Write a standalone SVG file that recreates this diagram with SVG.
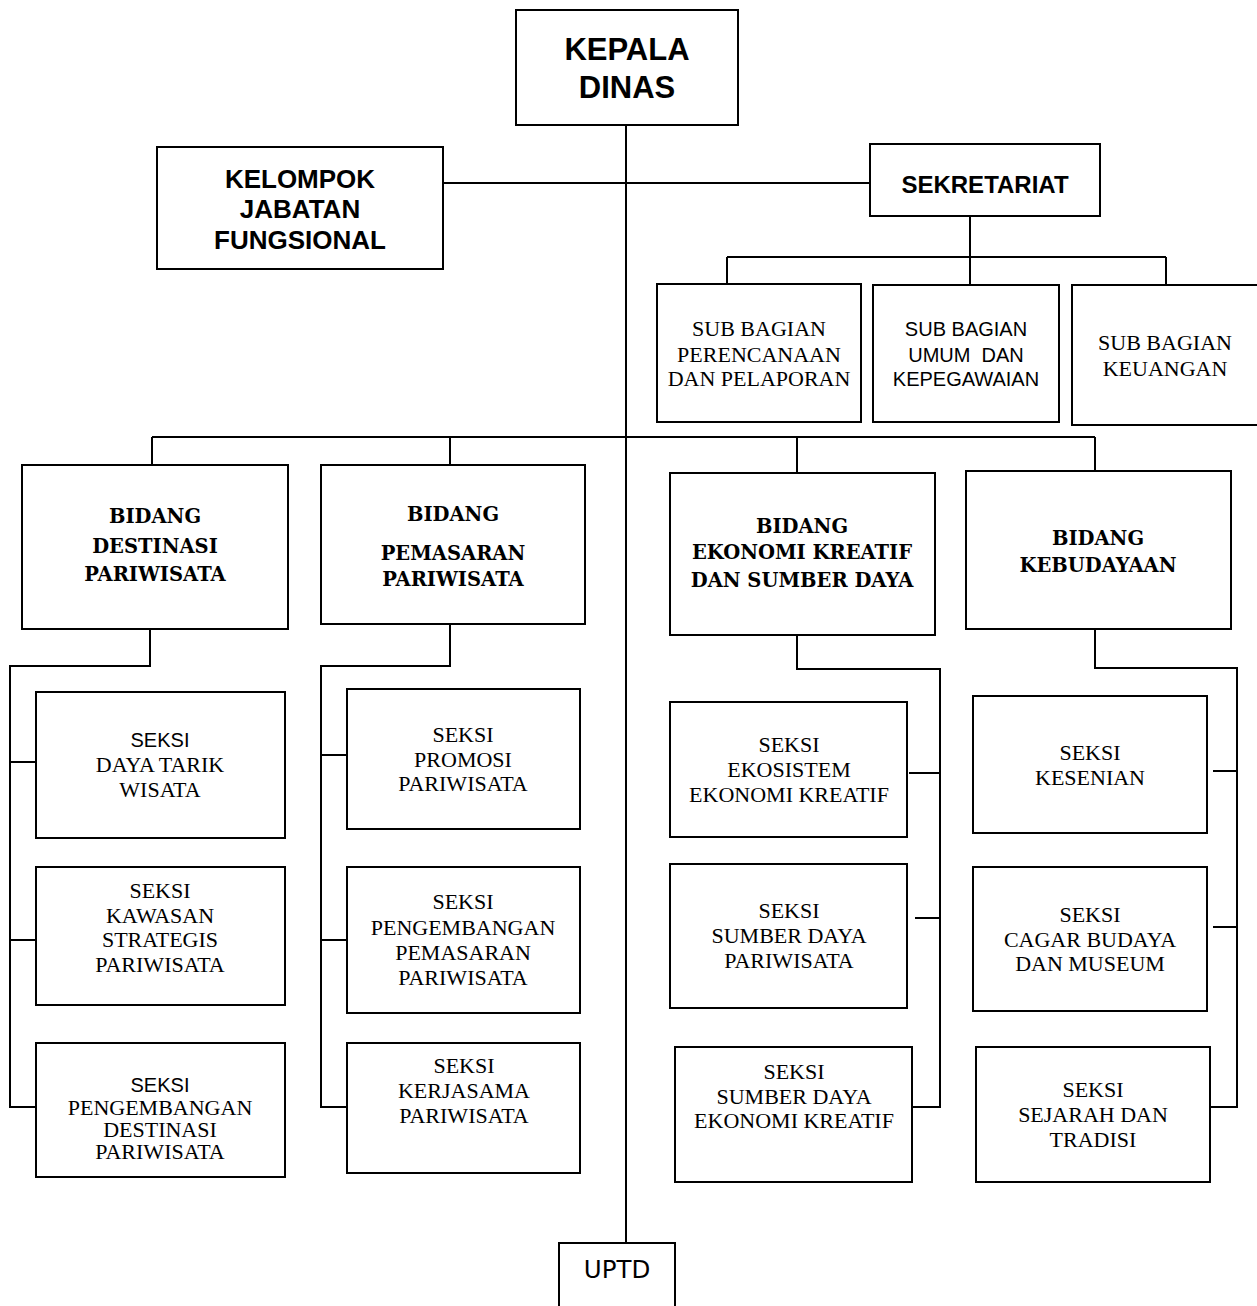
<svg xmlns="http://www.w3.org/2000/svg" width="1257" height="1306" viewBox="0 0 1257 1306">
<style>
.box{fill:#fff;stroke:#000;stroke-width:2}
.ln{stroke:#000;stroke-width:2;fill:none}
.hs{font-family:"Liberation Sans",Arial,sans-serif;font-weight:bold;text-anchor:middle;fill:#000}
.sr{font-family:"Liberation Serif","Times New Roman",serif;font-size:22px;text-anchor:middle;fill:#000}
.sn{font-family:"Liberation Sans",Arial,sans-serif;font-size:20px;text-anchor:middle;fill:#000}
.bd{font-family:"DejaVu Serif",serif;font-weight:bold;font-size:19.5px;text-anchor:middle;fill:#000}
</style>
<rect width="1257" height="1306" fill="#fff"/>
<g id="connectors">
<path class="ln" d="M626 125 V1248"/>
<path class="ln" d="M443 183 H870"/>
<path class="ln" d="M970 216 V257 M727 257 H1166 M727 257 V284 M970 257 V285 M1166 257 V288"/>
<path class="ln" d="M152 437 H1095 M152 437 V465 M450 437 V465 M797 437 V473 M1095 437 V471"/>
<path class="ln" d="M150 629 V666 H10 V1107 H36 M10 762 H36 M10 940 H36"/>
<path class="ln" d="M450 624 V666 H321 V1107 H347 M321 755 H347 M321 940 H347"/>
<path class="ln" d="M797 635 V669 H940 V1107 H912 M909 773 H940 M915 918 H940"/>
<path class="ln" d="M1095 629 V668 H1237 V1107 H1210 M1213 771 H1237 M1213 927 H1237"/>
</g>
<g id="kepala-dinas">
<rect class="box" x="516" y="10" width="222" height="115"/>
<text class="hs" font-size="31" x="627" y="60">KEPALA</text>
<text class="hs" font-size="31" x="627" y="98">DINAS</text>
</g>
<g id="kelompok-jabatan-fungsional">
<rect class="box" x="157" y="147" width="286" height="122"/>
<text class="hs" font-size="26" x="300" y="188">KELOMPOK</text>
<text class="hs" font-size="26" x="300" y="218">JABATAN</text>
<text class="hs" font-size="26" x="300" y="249">FUNGSIONAL</text>
</g>
<g id="sekretariat">
<rect class="box" x="870" y="144" width="230" height="72"/>
<text class="hs" font-size="24" x="985" y="193">SEKRETARIAT</text>
</g>
<g id="sub-bagian-perencanaan">
<rect class="box" x="657" y="284" width="204" height="138"/>
<text class="sr" x="759" y="336">SUB BAGIAN</text>
<text class="sr" x="759" y="362">PERENCANAAN</text>
<text class="sr" x="759" y="386">DAN PELAPORAN</text>
</g>
<g id="sub-bagian-umum">
<rect class="box" x="873" y="285" width="186" height="137"/>
<text class="sn" x="966" y="336">SUB BAGIAN</text>
<text class="sn" x="966" y="362" style="white-space:pre">UMUM  DAN</text>
<text class="sn" x="966" y="386">KEPEGAWAIAN</text>
</g>
<g id="sub-bagian-keuangan">
<rect class="box" x="1072" y="285" width="200" height="140"/>
<text class="sr" x="1165" y="350">SUB BAGIAN</text>
<text class="sr" x="1165" y="376">KEUANGAN</text>
</g>
<g id="bidang-destinasi">
<rect class="box" x="22" y="465" width="266" height="164"/>
<text class="bd" x="155" y="523">BIDANG</text>
<text class="bd" x="155" y="553">DESTINASI</text>
<text class="bd" x="155" y="581">PARIWISATA</text>
</g>
<g id="bidang-pemasaran">
<rect class="box" x="321" y="465" width="264" height="159"/>
<text class="bd" x="453" y="521">BIDANG</text>
<text class="bd" x="453" y="560">PEMASARAN</text>
<text class="bd" x="453" y="586">PARIWISATA</text>
</g>
<g id="bidang-ekonomi-kreatif">
<rect class="box" x="670" y="473" width="265" height="162"/>
<text class="bd" x="802" y="533">BIDANG</text>
<text class="bd" x="802" y="559">EKONOMI KREATIF</text>
<text class="bd" x="802" y="587">DAN SUMBER DAYA</text>
</g>
<g id="bidang-kebudayaan">
<rect class="box" x="966" y="471" width="265" height="158"/>
<text class="bd" x="1098" y="545">BIDANG</text>
<text class="bd" x="1098" y="572">KEBUDAYAAN</text>
</g>
<g id="seksi-daya-tarik">
<rect class="box" x="36" y="692" width="249" height="146"/>
<text class="sn" x="160" y="747">SEKSI</text>
<text class="sr" x="160" y="772">DAYA TARIK</text>
<text class="sr" x="160" y="797">WISATA</text>
</g>
<g id="seksi-kawasan">
<rect class="box" x="36" y="867" width="249" height="138"/>
<text class="sr" x="160" y="898">SEKSI</text>
<text class="sr" x="160" y="923">KAWASAN</text>
<text class="sr" x="160" y="947">STRATEGIS</text>
<text class="sr" x="160" y="972">PARIWISATA</text>
</g>
<g id="seksi-pengembangan-destinasi">
<rect class="box" x="36" y="1043" width="249" height="134"/>
<text class="sn" font-size="19" x="160" y="1092">SEKSI</text>
<text class="sr" font-size="21" x="160" y="1115">PENGEMBANGAN</text>
<text class="sr" font-size="21" x="160" y="1137">DESTINASI</text>
<text class="sr" font-size="21" x="160" y="1159">PARIWISATA</text>
</g>
<g id="seksi-promosi">
<rect class="box" x="347" y="689" width="233" height="140"/>
<text class="sr" x="463" y="742">SEKSI</text>
<text class="sr" x="463" y="767">PROMOSI</text>
<text class="sr" x="463" y="791">PARIWISATA</text>
</g>
<g id="seksi-pengembangan-pemasaran">
<rect class="box" x="347" y="867" width="233" height="146"/>
<text class="sr" x="463" y="909">SEKSI</text>
<text class="sr" x="463" y="935">PENGEMBANGAN</text>
<text class="sr" x="463" y="960">PEMASARAN</text>
<text class="sr" x="463" y="985">PARIWISATA</text>
</g>
<g id="seksi-kerjasama">
<rect class="box" x="347" y="1043" width="233" height="130"/>
<text class="sr" x="464" y="1073">SEKSI</text>
<text class="sr" x="464" y="1098">KERJASAMA</text>
<text class="sr" x="464" y="1123">PARIWISATA</text>
</g>
<g id="seksi-ekosistem">
<rect class="box" x="670" y="702" width="237" height="135"/>
<text class="sr" x="789" y="752">SEKSI</text>
<text class="sr" x="789" y="777">EKOSISTEM</text>
<text class="sr" x="789" y="802">EKONOMI KREATIF</text>
</g>
<g id="seksi-sumber-daya-pariwisata">
<rect class="box" x="670" y="864" width="237" height="144"/>
<text class="sr" x="789" y="918">SEKSI</text>
<text class="sr" x="789" y="943">SUMBER DAYA</text>
<text class="sr" x="789" y="968">PARIWISATA</text>
</g>
<g id="seksi-sumber-daya-ekraf">
<rect class="box" x="675" y="1047" width="237" height="135"/>
<text class="sr" x="794" y="1079">SEKSI</text>
<text class="sr" x="794" y="1104">SUMBER DAYA</text>
<text class="sr" x="794" y="1128">EKONOMI KREATIF</text>
</g>
<g id="seksi-kesenian">
<rect class="box" x="973" y="696" width="234" height="137"/>
<text class="sr" x="1090" y="760">SEKSI</text>
<text class="sr" x="1090" y="785">KESENIAN</text>
</g>
<g id="seksi-cagar-budaya">
<rect class="box" x="973" y="867" width="234" height="144"/>
<text class="sr" x="1090" y="922">SEKSI</text>
<text class="sr" x="1090" y="947">CAGAR BUDAYA</text>
<text class="sr" x="1090" y="971">DAN MUSEUM</text>
</g>
<g id="seksi-sejarah">
<rect class="box" x="976" y="1047" width="234" height="135"/>
<text class="sr" x="1093" y="1097">SEKSI</text>
<text class="sr" x="1093" y="1122">SEJARAH DAN</text>
<text class="sr" x="1093" y="1147">TRADISI</text>
</g>
<g id="uptd">
<rect class="box" x="559" y="1243" width="116" height="90"/>
<text font-family="'DejaVu Sans',sans-serif" font-size="24.5" text-anchor="middle" x="617" y="1278">UPTD</text>
</g>
</svg>
